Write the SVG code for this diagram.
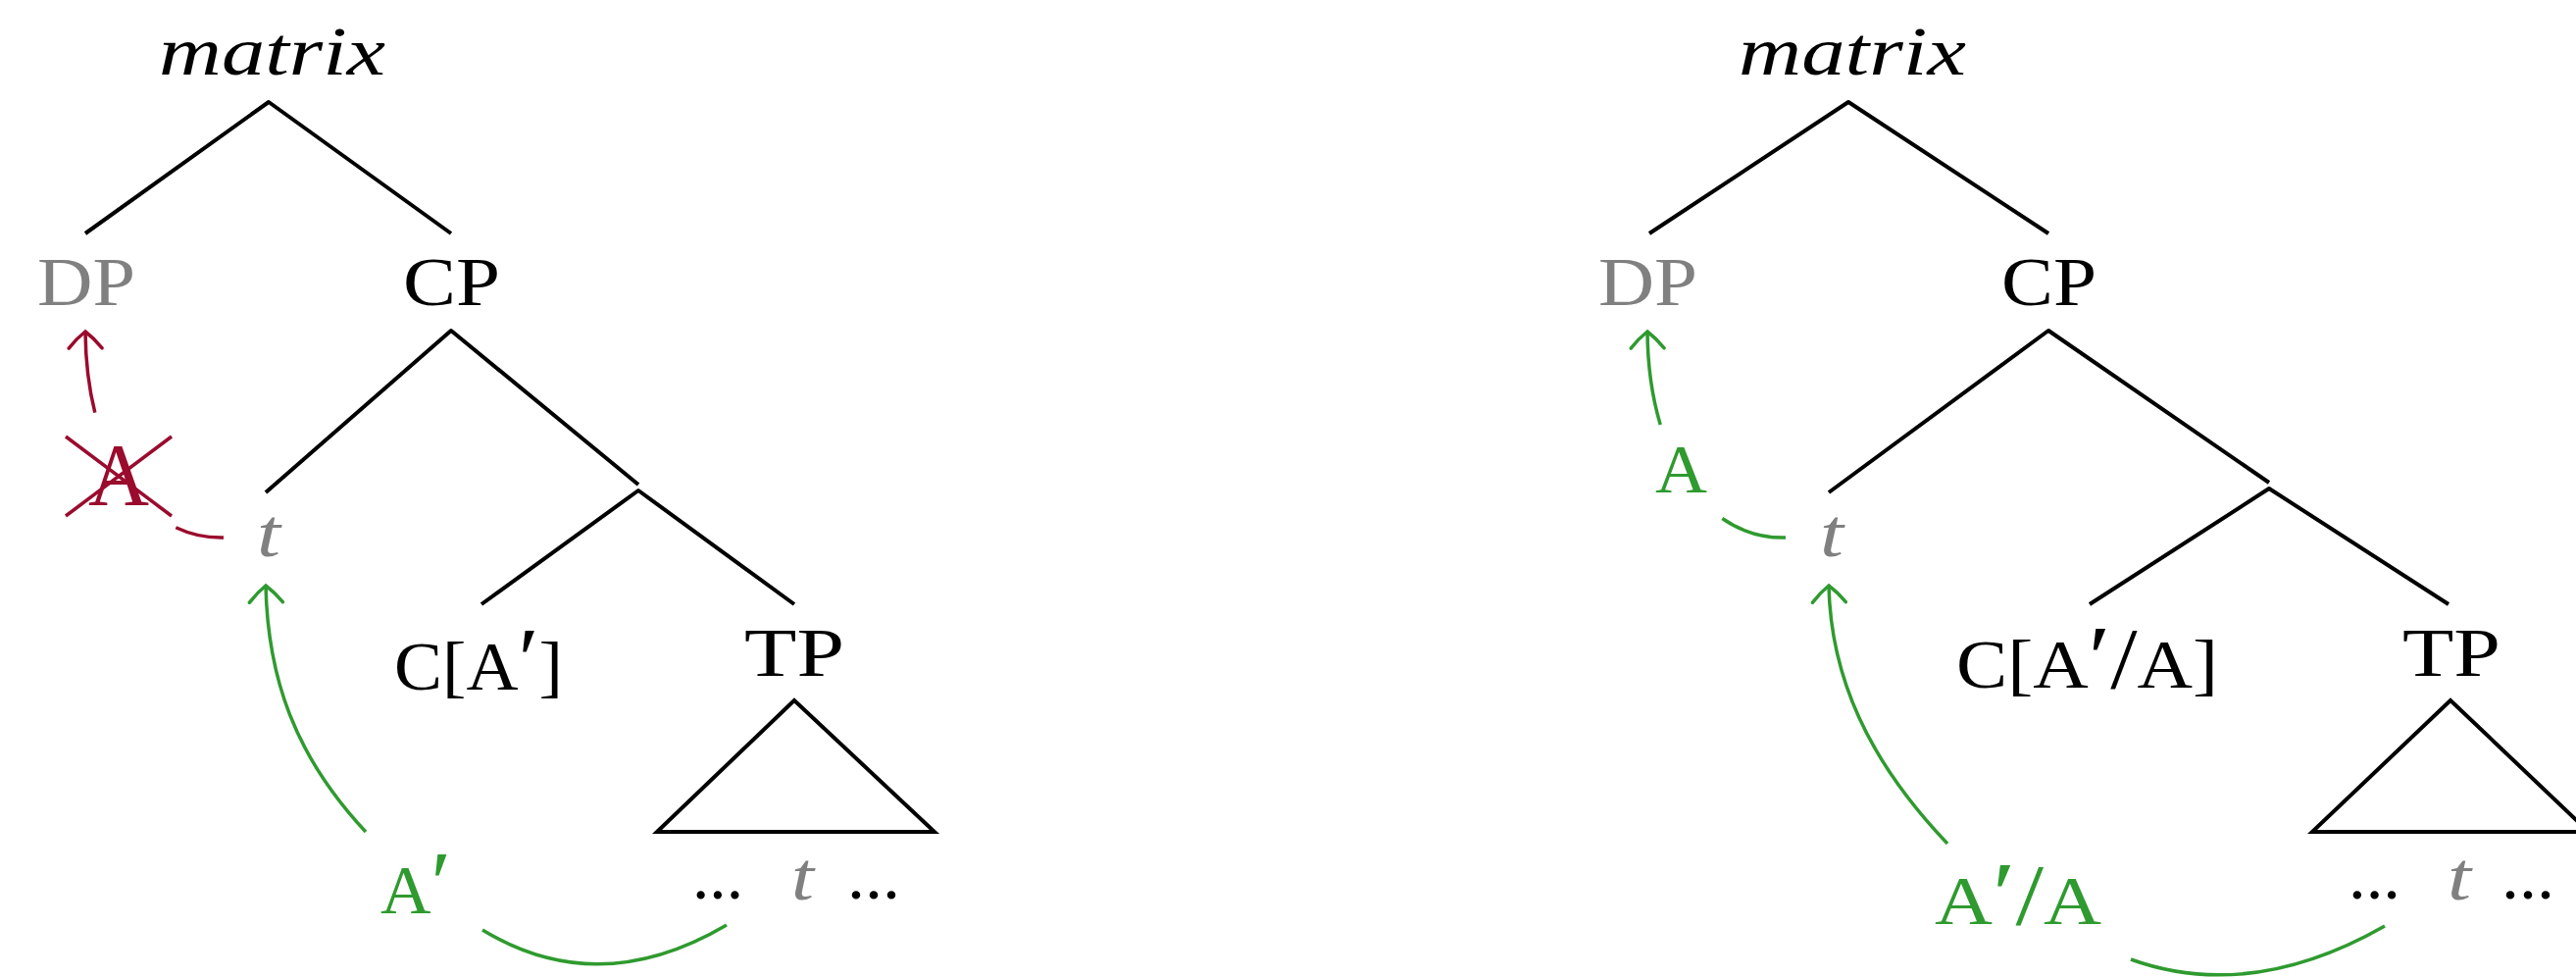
<svg xmlns="http://www.w3.org/2000/svg" width="2627" height="997" viewBox="0 0 2627 997">
<style>
  text { font-family: "Liberation Serif", "Times New Roman", serif; font-size: 70px; fill: #000; }
  .it { font-style: italic; }
  .gray { fill: #808080; }
  .green { fill: #2f9a2f; }
  .red { fill: #9a0b2d; }
  .pr { font-size: 92px; }
  .sl { font-size: 88px; }
  .edge { stroke: #000; stroke-width: 4; fill: none; stroke-linejoin: round; }
  .tri { stroke: #000; stroke-width: 4; fill: none; stroke-linejoin: miter; }
  .mvg { stroke: #2f9a2f; stroke-width: 3.5; fill: none; }
  .mvr { stroke: #9a0b2d; stroke-width: 3.5; fill: none; }
</style>
<defs>
  <marker id="arrG" markerUnits="userSpaceOnUse" viewBox="-20 -20 24 40" markerWidth="24" markerHeight="40" refX="0" refY="0" orient="auto" overflow="visible">
    <path d="M -17 -17 Q -7 -9 0 0 Q -7 9 -17 17" fill="none" stroke="#2f9a2f" stroke-width="3.5" stroke-linecap="round"/>
  </marker>
  <marker id="arrR" markerUnits="userSpaceOnUse" viewBox="-20 -20 24 40" markerWidth="24" markerHeight="40" refX="0" refY="0" orient="auto" overflow="visible">
    <path d="M -17 -17 Q -7 -9 0 0 Q -7 9 -17 17" fill="none" stroke="#9a0b2d" stroke-width="3.5" stroke-linecap="round"/>
  </marker>
</defs>

<!-- LEFT TREE -->
<g id="L-matrix"><text class="it" x="162" y="76" textLength="231" lengthAdjust="spacingAndGlyphs">matrix</text></g>
<g id="L-DP"><text class="gray" x="38" y="311" textLength="100" lengthAdjust="spacingAndGlyphs">DP</text></g>
<g id="L-CP"><text x="411" y="311" textLength="99" lengthAdjust="spacingAndGlyphs">CP</text></g>
<g id="L-t"><text class="it gray" x="262" y="567" textLength="24" lengthAdjust="spacingAndGlyphs">t</text></g>
<g id="L-C"><text x="402" y="703" textLength="172" lengthAdjust="spacingAndGlyphs">C[A<tspan class="pr">′</tspan>]</text></g>
<g id="L-TP"><text x="759" y="689" textLength="102" lengthAdjust="spacingAndGlyphs">TP</text>
  <polygon class="tri" points="810,714 670,848 953,848"/></g>
<g id="L-yield"><text x="706" y="916" textLength="52" lengthAdjust="spacingAndGlyphs">...</text><text class="it gray" x="807" y="917" textLength="23" lengthAdjust="spacingAndGlyphs">t</text><text x="864" y="916" textLength="54" lengthAdjust="spacingAndGlyphs">...</text></g>
<g id="L-Aprime"><text class="green" x="388" y="931" textLength="72" lengthAdjust="spacingAndGlyphs">A<tspan class="pr">′</tspan></text></g>
<g id="L-Acrossed"><text class="red" x="90" y="515" style="font-size:90px" textLength="62" lengthAdjust="spacingAndGlyphs">A</text>
  <line class="mvr" x1="67" y1="445" x2="175" y2="526"/><line class="mvr" x1="67" y1="526" x2="175" y2="445"/></g>

<!-- RIGHT TREE -->
<g id="R-matrix"><text class="it" x="1773" y="76" textLength="232" lengthAdjust="spacingAndGlyphs">matrix</text></g>
<g id="R-DP"><text class="gray" x="1630" y="311" textLength="101" lengthAdjust="spacingAndGlyphs">DP</text></g>
<g id="R-CP"><text x="2041" y="311" textLength="97" lengthAdjust="spacingAndGlyphs">CP</text></g>
<g id="R-A"><text class="green" x="1688" y="502" textLength="53" lengthAdjust="spacingAndGlyphs">A</text></g>
<g id="R-t"><text class="it gray" x="1856" y="567" textLength="24" lengthAdjust="spacingAndGlyphs">t</text></g>
<g id="R-C"><text x="1995" y="701" textLength="267" lengthAdjust="spacingAndGlyphs">C[A<tspan class="pr">′</tspan><tspan class="sl">/</tspan>A]</text></g>
<g id="R-TP"><text x="2450" y="689" textLength="100" lengthAdjust="spacingAndGlyphs">TP</text>
  <polygon class="tri" points="2499,714 2358,848 2640,848"/></g>
<g id="R-yield"><text x="2395" y="916" textLength="53" lengthAdjust="spacingAndGlyphs">...</text><text class="it gray" x="2496" y="917" textLength="24" lengthAdjust="spacingAndGlyphs">t</text><text x="2551" y="916" textLength="54" lengthAdjust="spacingAndGlyphs">...</text></g>
<g id="R-AprimeA"><text class="green" x="1973" y="942" textLength="170" lengthAdjust="spacingAndGlyphs">A<tspan class="pr">′</tspan><tspan class="sl">/</tspan>A</text></g>

<!-- CONNECTORS -->
<g id="connectors">
  <!-- left tree edges -->
  <path class="edge" d="M 87 238 L 274 104 L 460 238"/>
  <path class="edge" d="M 271 502 L 460 337 L 651 494"/>
  <path class="edge" d="M 491 616 L 651 500 L 810 616"/>
  <!-- right tree edges -->
  <path class="edge" d="M 1682 238 L 1885 104 L 2089 238"/>
  <path class="edge" d="M 1865 502 L 2089 337 L 2314 492"/>
  <path class="edge" d="M 2131 616 L 2314 498 L 2497 616"/>
  <!-- left movement -->
  <path class="mvr" d="M 228 548 C 210.84 548.44 194.45 544.91 179.32 537.73"/>
  <path class="mvr" d="M 96.83 420.64 C 90.69 396.2 87.23 368.36 87 338" marker-end="url(#arrR)"/>
  <path class="mvg" d="M 373 848 C 300 770 273 690 271 597" marker-end="url(#arrG)"/>
  <path class="mvg" d="M 492 948 Q 610 1020 741 943"/>
  <!-- right movement -->
  <path class="mvg" d="M 1821 548 C 1797.6 548.6 1775.64 541.82 1756.34 528.47"/>
  <path class="mvg" d="M 1693.27 432.96 C 1684.99 405.49 1680.27 373.64 1680 338" marker-end="url(#arrG)"/>
  <path class="mvg" d="M 1986 860 C 1905 775 1867 690 1865 597" marker-end="url(#arrG)"/>
  <path class="mvg" d="M 2173 978 Q 2295 1022 2432 944"/>
</g>
</svg>
